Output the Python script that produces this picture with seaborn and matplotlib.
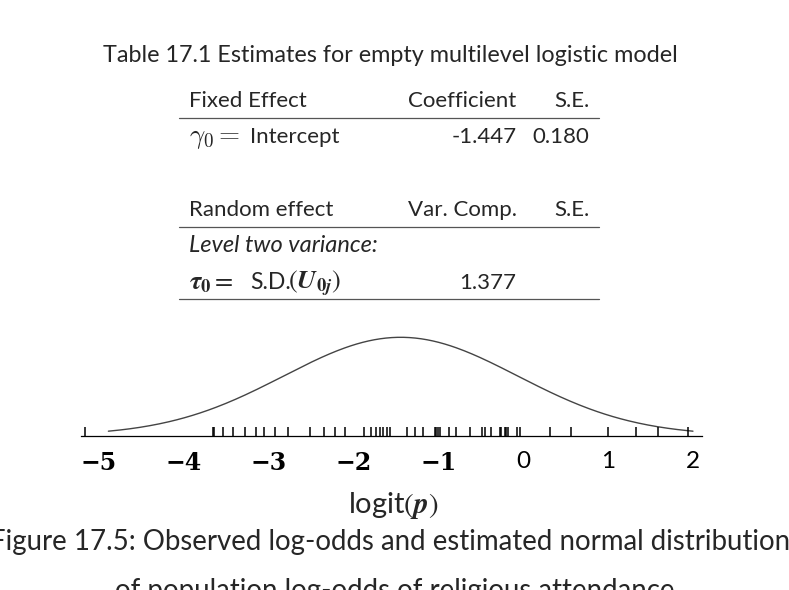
import numpy as np
import matplotlib
matplotlib.use('Agg')
import matplotlib.pyplot as plt
import seaborn as sns
from matplotlib.lines import Line2D

# Table 17.1 values
title = 'Table 17.1 Estimates for empty multilevel logistic model'
fixed_header = ['Fixed Effect', 'Coefficient', 'S.E.']
fixed_row = [r'$\gamma_0 =$', 'Intercept', '-1.447', '0.180']
random_header = ['Random effect', 'Var. Comp.', 'S.E.']
random_sub = 'Level two variance:'
random_row = [r'$\mathbfit{\tau}_\mathbf{0} =$', 'S.D.',
              r'$(\mathbfit{U}_{\mathbf{0}\mathbfit{j}})$', '1.377', '']

gamma0 = -1.447  # mean of the normal curve
tau0 = 1.377     # sd of the normal curve

# observed log-odds (rug)
logit_obs = [-5.165, -3.655, -3.645, -3.545, -3.42, -3.28, -3.145, -3.055, -2.93, -2.77,
             -2.52, -2.355, -2.225, -2.10, -1.88, -1.80, -1.74, -1.69, -1.65, -1.61,
             -1.57, -1.373, -1.282, -1.185, -1.047, -1.027, -1.008, -0.988, -0.882, -0.80,
             -0.627, -0.486, -0.459, -0.388, -0.282, -0.262, -0.224, -0.204, -0.185, -0.074,
             -0.047, 0.315, 0.555, 0.995, 1.32, 1.58, 1.94]

tick_vals = [-5, -4, -3, -2, -1, 0, 1, 2]
tick_labels = ['\u22125', '\u22124', '\u22123', '\u22122', '\u22121', '0', '1', '2']

caption = ['Figure 17.5: Observed log-odds and estimated normal distribution',
           'of population log-odds of religious attendance']

sns.set_style('white')
plt.rcParams['font.family'] = ['Lato', 'DejaVu Sans']
plt.rcParams['mathtext.fontset'] = 'cm'

W, H = 789, 590
fig = plt.figure(figsize=(W / 100, H / 100), dpi=100)


def put(x, y, s, **kw):
    # place text with pixel coordinates measured from the top-left corner
    return fig.text(x / W, 1 - y / H, s, va='baseline', **kw)


def hline(y, x0=179.3, x1=599.3):
    fig.add_artist(Line2D([x0 / W, x1 / W], [1 - y / H, 1 - y / H],
                          transform=fig.transFigure, color='#555555', lw=0.9))


# table
tsize = 16
put(390, 61.7, title, ha='center', fontsize=16.8)
put(189.3, 107.3, fixed_header[0], ha='left', fontsize=tsize)
put(516.7, 107.3, fixed_header[1], ha='right', fontsize=tsize)
put(589.3, 107.3, fixed_header[2], ha='right', fontsize=tsize)
hline(118)
put(189.3, 143.3, fixed_row[0], ha='left', fontsize=19.5)
put(250, 143.3, fixed_row[1], ha='left', fontsize=tsize)
put(516.7, 143.3, fixed_row[2], ha='right', fontsize=tsize)
put(589.3, 143.3, fixed_row[3], ha='right', fontsize=tsize)

put(189.3, 215.7, random_header[0], ha='left', fontsize=tsize)
put(516.7, 215.7, random_header[1], ha='right', fontsize=tsize)
put(589.3, 215.7, random_header[2], ha='right', fontsize=tsize)
hline(227)
put(189.3, 252.3, random_sub, ha='left', fontsize=17, style='italic')
put(189.3, 289.3, random_row[0], ha='left', fontsize=19, math_fontfamily='stix')
put(250, 289.3, random_row[1], ha='left', fontsize=16.5)
put(288, 289.3, random_row[2], ha='left', fontsize=19, math_fontfamily='stix')
put(516.7, 289.3, random_row[3], ha='right', fontsize=tsize)
put(589.3, 289.3, random_row[4], ha='right', fontsize=tsize)
hline(299)

# normal curve + rug
x_left, x_right = -5.212, 2.102
ax = fig.add_axes([81 / W, 1 - 435.5 / H, 621 / W, 98.2 / H])
x_curve = np.linspace(gamma0 - 2.5 * tau0, gamma0 + 2.5 * tau0, 300)
dens = np.exp(-0.5 * ((x_curve - gamma0) / tau0) ** 2) / (tau0 * np.sqrt(2 * np.pi))
sns.lineplot(x=x_curve, y=dens, ax=ax, color='#444444', linewidth=1.0, clip_on=False)
sns.rugplot(x=logit_obs, ax=ax, height=8.5 / 98.2, color='black', linewidth=1.1,
            expand_margins=False)
ax.set_xlim(x_left, x_right)
ax.set_ylim(0, dens.max())
ax.set_yticks([])
ax.set_xticks(tick_vals)
ax.set_xticklabels(tick_labels)
for s in ['top', 'left', 'right']:
    ax.spines[s].set_visible(False)
ax.spines['bottom'].set_linewidth(0.9)
ax.spines['bottom'].set_color('black')
ax.tick_params(axis='x', direction='out', length=6.5, width=0.8, pad=5, colors='black')
# negative labels in a heavy serif, the others in the sans font
for v, lab in zip(tick_vals, ax.get_xticklabels()):
    if v < 0:
        lab.set_fontfamily('DejaVu Serif')
        lab.set_fontweight('bold')
        lab.set_fontsize(17)
    else:
        lab.set_fontsize(17.5)
ax.set_xlabel('')
ax.set_ylabel('')
ax.patch.set_alpha(0)

put(393, 513, r'logit$(\mathbfit{p})$', ha='center', fontsize=21, math_fontfamily='stix')
put(390.5, 550, caption[0], ha='center', fontsize=19.9)
put(394.5, 599, caption[1], ha='center', fontsize=19.9)

fig.savefig('out.png', dpi=100)
